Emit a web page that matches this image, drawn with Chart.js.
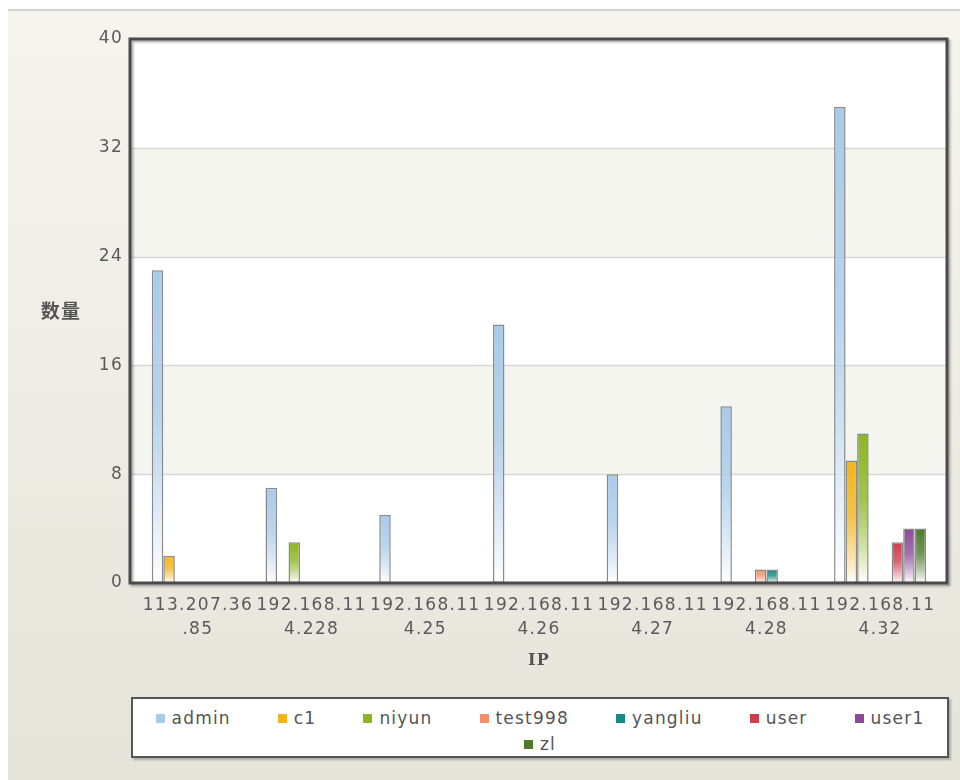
<!DOCTYPE html>
<html>
<head>
<meta charset="utf-8">
<script src="https://cdn.jsdelivr.net/npm/chart.js@4/dist/chart.umd.min.js"></script>
<style>
  html, body { margin: 0; padding: 0; background: #fff; }
  #page { position: relative; width: 960px; height: 780px; overflow: hidden; }
  #panel {
    position: absolute; left: 8px; top: 9px; width: 952px; height: 771px;
    border-top: 2px solid #d2d2ce;
    background: linear-gradient(#f5f5ee, #e4e4da);
  }
  #wrap { position: absolute; left: 0; top: 0; width: 960px; height: 690px; }
  #legend {
    position: absolute; left: 131px; top: 697px; width: 818px; height: 61px;
    box-sizing: border-box; border: 2px solid #555; background: #fff;
    box-shadow: 2px 2px 2px rgba(0, 0, 0, 0.25);
    display: flex; flex-wrap: wrap; justify-content: center; align-content: flex-start;
    column-gap: 47px; padding-top: 6px;
    font: 17px "DejaVu Sans", sans-serif; color: #555; letter-spacing: 1.2px;
  }
  .item { display: inline-flex; align-items: center; white-space: nowrap; height: 26px; line-height: 26px; }
  .sw { width: 9px; height: 9px; margin-right: 7px; }
</style>
</head>
<body>
<div id="page">
  <div id="panel"></div>
  <div id="wrap"><canvas id="chart"></canvas></div>
  <div id="legend"></div>
</div>
<script>
const ips = ['113.207.36.85', '192.168.114.228', '192.168.114.25', '192.168.114.26',
             '192.168.114.27', '192.168.114.28', '192.168.114.32'];
const users = ['admin', 'c1', 'niyun', 'test998', 'yangliu', 'user', 'user1', 'zl'];
const colors = ['#a8cbea', '#f3b41a', '#8db624', '#f3926a', '#168b86', '#cf3c4c', '#8b4b9b', '#4f7a2c'];

const admin   = [23, 7, 5, 19, 8, 13, 35];
const c1      = [2, 0, 0, 0, 0, 0, 9];
const niyun   = [0, 3, 0, 0, 0, 0, 11];
const test998 = [0, 0, 0, 0, 0, 1, 0];
const yangliu = [0, 0, 0, 0, 0, 1, 0];
const user    = [0, 0, 0, 0, 0, 0, 3];
const user1   = [0, 0, 0, 0, 0, 0, 4];
const zl      = [0, 0, 0, 0, 0, 0, 4];
const series = [admin, c1, niyun, test998, yangliu, user, user1, zl];

const yTicks = [0, 8, 16, 24, 32, 40];

// vertical fade: series colour at the top of each bar, white at the bottom
function barFill(color) {
  return (c) => {
    const chart = c.chart;
    if (!chart.chartArea || c.raw == null) return color;
    const y = chart.scales.y;
    const top = y.getPixelForValue(c.raw);
    const bottom = y.getPixelForValue(0);
    if (bottom - top < 1) return color;
    const g = chart.ctx.createLinearGradient(0, top, 0, bottom);
    g.addColorStop(0, color);
    g.addColorStop(0.45, color + 'cc');
    g.addColorStop(1, '#ffffff');
    return g;
  };
}

const framePlugin = {
  id: 'frame',
  beforeDraw(chart) {
    chart.ctx.letterSpacing = '1.3px';
  },
  beforeDatasetsDraw(chart) {
    const { ctx, chartArea: a, scales: { y } } = chart;
    const left = a.left - 11, right = a.right + 10;
    ctx.save();
    ctx.fillStyle = '#ffffff';
    ctx.fillRect(left, a.top, right - left, a.bottom - a.top);
    for (let i = 0; i < yTicks.length - 1; i++) {
      if (i % 2 === 1) {
        const y0 = y.getPixelForValue(yTicks[i]);
        const y1 = y.getPixelForValue(yTicks[i + 1]);
        ctx.fillStyle = '#f5f5f0';
        ctx.fillRect(left, y1, right - left, y0 - y1);
      }
    }
    ctx.strokeStyle = '#d8d8d4';
    ctx.lineWidth = 1.5;
    yTicks.slice(1, -1).forEach(v => {
      const py = Math.round(y.getPixelForValue(v)) + 0.5;
      ctx.beginPath();
      ctx.moveTo(left, py);
      ctx.lineTo(right, py);
      ctx.stroke();
    });
    ctx.restore();
  },
  afterDatasetsDraw(chart) {
    const { ctx, chartArea: a } = chart;
    const left = a.left - 11, right = a.right + 10;
    ctx.save();
    ctx.shadowColor = 'rgba(0,0,0,0.3)';
    ctx.shadowOffsetX = 2;
    ctx.shadowOffsetY = 2;
    ctx.shadowBlur = 2;
    ctx.strokeStyle = '#4a4a4a';
    ctx.lineWidth = 3;
    ctx.strokeRect(left, a.top, right - left, a.bottom - a.top);
    ctx.restore();

    ctx.save();
    ctx.font = 'bold 19px "Noto Sans CJK SC"';
    ctx.fillStyle = '#555';
    ctx.textAlign = 'center';
    ctx.textBaseline = 'middle';
    ctx.fillText('数量', 61, 311);
    ctx.restore();
  }
};

const chart = new Chart(document.getElementById('chart'), {
  type: 'bar',
  data: {
    labels: ips,
    datasets: users.map((name, i) => ({
      label: name,
      data: series[i],
      backgroundColor: barFill(colors[i]),
      borderColor: '#8a8a8a',
      borderWidth: 1.5,
      borderSkipped: false,
      categoryPercentage: 0.81,
      barPercentage: 1
    }))
  },
  options: {
    responsive: true,
    maintainAspectRatio: false,
    animation: false,
    layout: { padding: { left: 0, right: 23, top: 39, bottom: 0 } },
    plugins: {
      legend: { display: false },
      tooltip: { enabled: false }
    },
    scales: {
      x: {
        grid: { display: false, drawTicks: false },
        border: { display: false },
        afterFit: (scale) => { scale.height = 107; },
        ticks: {
          autoSkip: false,
          maxRotation: 0,
          padding: 11,
          color: '#5a5a5a',
          font: { family: 'DejaVu Sans', size: 17, lineHeight: 1.41 },
          callback: function (value) {
            const s = this.getLabelForValue(value);
            return [s.slice(0, 10), s.slice(10)];
          }
        },
        title: {
          display: true,
          text: 'IP',
          color: '#555',
          font: { family: 'DejaVu Serif', size: 16, weight: 'bold' },
          padding: { top: 0, bottom: 20 }
        }
      },
      y: {
        min: 0,
        max: 40,
        grid: { display: false, drawTicks: false },
        border: { display: false },
        afterFit: (scale) => { scale.width = 141; },
        afterBuildTicks: (scale) => { scale.ticks = yTicks.map(v => ({ value: v })); },
        ticks: {
          padding: 18,
          color: '#5a5a5a',
          font: { family: 'DejaVu Sans', size: 17 }
        }
      }
    }
  },
  plugins: [framePlugin]
});

// legend box under the chart
const legendBox = document.getElementById('legend');
chart.data.datasets.forEach((ds, i) => {
  const item = document.createElement('span');
  item.className = 'item';
  const sw = document.createElement('span');
  sw.className = 'sw';
  sw.style.background = colors[i];
  item.appendChild(sw);
  item.appendChild(document.createTextNode(ds.label));
  legendBox.appendChild(item);
});
</script>
</body>
</html>
